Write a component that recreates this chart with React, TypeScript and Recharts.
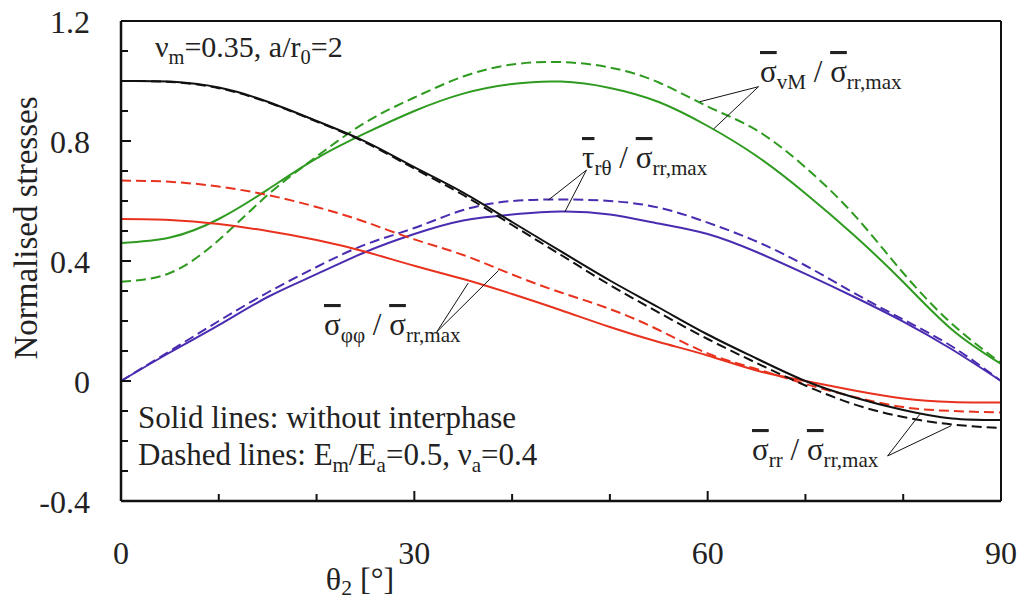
import { LineChart, Line, XAxis, YAxis, ReferenceLine } from 'recharts';

// polar angle θ2 in degrees
const thetas = [0, 5, 10, 15, 20, 25, 30, 35, 40, 45, 50, 55, 60, 65, 70, 75, 80, 85, 90];

// σrr / σrr,max
const rrSolid = [1.0, 0.998, 0.978, 0.931, 0.867, 0.798, 0.713, 0.628, 0.53, 0.432, 0.335, 0.245, 0.155, 0.075, 0.0, -0.055, -0.097, -0.125, -0.13];
const rrDashed = [1.0, 0.997, 0.976, 0.929, 0.865, 0.795, 0.708, 0.62, 0.52, 0.42, 0.32, 0.228, 0.14, 0.06, -0.015, -0.078, -0.12, -0.145, -0.157];
// σφφ / σrr,max
const ffSolid = [0.54, 0.537, 0.523, 0.5, 0.47, 0.431, 0.384, 0.34, 0.29, 0.236, 0.18, 0.13, 0.085, 0.035, 0.0, -0.032, -0.058, -0.07, -0.072];
const ffDashed = [0.668, 0.664, 0.648, 0.62, 0.58, 0.53, 0.472, 0.42, 0.355, 0.295, 0.24, 0.17, 0.092, 0.04, -0.01, -0.053, -0.087, -0.1, -0.105];
// σvM / σrr,max
const vmSolid = [0.46, 0.478, 0.54, 0.638, 0.742, 0.826, 0.9, 0.958, 0.99, 0.998, 0.977, 0.93, 0.85, 0.75, 0.625, 0.485, 0.33, 0.171, 0.057];
const vmDashed = [0.331, 0.36, 0.47, 0.62, 0.748, 0.862, 0.945, 1.015, 1.055, 1.063, 1.045, 0.995, 0.915, 0.836, 0.712, 0.553, 0.36, 0.19, 0.06];
// τrθ / σrr,max
const tauSolid = [0, 0.095, 0.186, 0.28, 0.356, 0.43, 0.49, 0.535, 0.555, 0.565, 0.555, 0.525, 0.49, 0.43, 0.357, 0.28, 0.198, 0.105, 0];
const tauDashed = [0, 0.1, 0.2, 0.295, 0.38, 0.455, 0.51, 0.57, 0.6, 0.605, 0.6, 0.578, 0.528, 0.465, 0.385, 0.293, 0.205, 0.115, 0];

const xTicks = [0, 10, 20, 30, 40, 50, 60, 70, 80, 90];
const xLabelled = [0, 30, 60, 90];
const yTicks = [-0.4, -0.3, -0.2, -0.1, 0, 0.1, 0.2, 0.3, 0.4, 0.5, 0.6, 0.7, 0.8, 0.9, 1.0, 1.1, 1.2];
const yLabelled = [-0.4, 0, 0.4, 0.8, 1.2];

// leader lines of the annotations, in data units [θ, value]
const leaders = [
  [[65.2, 0.981], [59.2, 0.931]],
  [[65.2, 0.981], [60.6, 0.84]],
  [[47.6, 0.703], [43.7, 0.603]],
  [[47.6, 0.703], [45.4, 0.564]],
  [[32.3, 0.164], [38.6, 0.368]],
  [[32.3, 0.164], [35.5, 0.326]],
  [[78.4, -0.25], [81.7, -0.111]],
  [[78.4, -0.25], [84.9, -0.149]],
];

const BLACK = '#111111';
const RED = '#e8321e';
const GREEN = '#2e9a1f';
const BLUE = '#4a2cb0';
const FONT = '"Liberation Serif", "Times New Roman", serif';

const data = thetas.map((t, i) => ({
  t,
  rrS: rrSolid[i], rrD: rrDashed[i],
  ffS: ffSolid[i], ffD: ffDashed[i],
  vmS: vmSolid[i], vmD: vmDashed[i],
  tS: tauSolid[i], tD: tauDashed[i],
}));

const series = [
  { key: 'vmS', color: GREEN, dash: undefined },
  { key: 'vmD', color: GREEN, dash: '10 5' },
  { key: 'tS', color: BLUE, dash: undefined },
  { key: 'tD', color: BLUE, dash: '10 5' },
  { key: 'ffS', color: RED, dash: undefined },
  { key: 'ffD', color: RED, dash: '10 5' },
  { key: 'rrS', color: BLACK, dash: undefined },
  { key: 'rrD', color: BLACK, dash: '10 5' },
];

function XTick(props: any) {
  const { x, y, payload } = props;
  const major = xLabelled.includes(payload.value);
  return (
    <g>
      <line x1={x} x2={x} y1={y} y2={y - (major ? 10 : 7)} stroke={BLACK} strokeWidth={2} />
      {major && (
        <text x={x} y={y + 63} textAnchor="middle" fontSize={32} fontFamily={FONT} fill="#222">
          {payload.value}
        </text>
      )}
    </g>
  );
}

function YTick(props: any) {
  const { x, y, payload } = props;
  const v = payload.value;
  const major = yLabelled.some(m => Math.abs(m - v) < 1e-6);
  return (
    <g>
      <line x1={x} x2={x + (major ? 10 : 7)} y1={y} y2={y} stroke={BLACK} strokeWidth={2} />
      {major && (
        <text x={x - 31} y={y + 12} textAnchor="end" fontSize={32} fontFamily={FONT} fill="#222">
          {v === 0 ? '0' : v.toFixed(1)}
        </text>
      )}
    </g>
  );
}

function Ratio({ x, y, head, sub, fs = 31 }: { x: number; y: number; head: string; sub: string; fs?: number }) {
  const s = fs * 0.68;
  const d = fs * 0.22;
  return (
    <text x={x} y={y} fontSize={fs} fontFamily={FONT} fill="#222" style={{ whiteSpace: 'pre' }}>
      <tspan style={{ textDecoration: 'overline' }}>{head}</tspan>
      <tspan fontSize={s} dy={d}>{sub}</tspan>
      <tspan dy={-d}>{' / '}</tspan>
      <tspan style={{ textDecoration: 'overline' }}>σ</tspan>
      <tspan fontSize={s} dy={d}>rr,max</tspan>
    </text>
  );
}

function Sub({ children, fs, k = 0.22 }: { children: string; fs: number; k?: number }) {
  return <tspan fontSize={fs * 0.68} dy={fs * k}>{children}</tspan>;
}
function Up({ children, fs, k = 0.22 }: { children: string; fs: number; k?: number }) {
  return <tspan dy={-fs * k}>{children}</tspan>;
}

export default function App() {
  return (
    <div style={{ position: 'relative', width: 1022, height: 602, background: '#fff' }}>
      <style>{'body{margin:0}'}</style>
      <LineChart width={1022} height={602} data={data} margin={{ top: 0, right: 0, bottom: 0, left: 0 }}>
        <XAxis
          dataKey="t" type="number" domain={[0, 90]} ticks={xTicks} interval={0}
          height={101} tickSize={0} tickMargin={0} tickLine={false} tick={<XTick />}
          axisLine={{ stroke: BLACK, strokeWidth: 2.5 }}
        />
        <XAxis
          xAxisId="top" dataKey="t" type="number" domain={[0, 90]} orientation="top"
          height={21} tick={false} tickLine={false} axisLine={{ stroke: BLACK, strokeWidth: 2 }}
        />
        <YAxis
          type="number" domain={[-0.4, 1.2]} ticks={yTicks} interval={0} allowDataOverflow
          width={121} tickSize={0} tickMargin={0} tickLine={false} tick={<YTick />}
          axisLine={{ stroke: BLACK, strokeWidth: 2.5 }}
        />
        <YAxis
          yAxisId="right" orientation="right" type="number" domain={[-0.4, 1.2]}
          width={21} tick={false} tickLine={false} axisLine={{ stroke: BLACK, strokeWidth: 2 }}
        />
        {series.map(s => (
          <Line
            key={s.key} type="natural" dataKey={s.key} stroke={s.color} strokeWidth={2}
            strokeDasharray={s.dash} dot={false} activeDot={false} isAnimationActive={false}
          />
        ))}
        {leaders.map((seg, i) => (
          <ReferenceLine
            key={i} stroke={BLACK} strokeWidth={1}
            segment={[{ x: seg[0][0], y: seg[0][1] }, { x: seg[1][0], y: seg[1][1] }]}
          />
        ))}
      </LineChart>
      <svg width={1022} height={602} style={{ position: 'absolute', left: 0, top: 0, pointerEvents: 'none' }}>
        <text x={155} y={57} fontSize={30} fontFamily={FONT} fill="#222">
          ν<Sub fs={30}>m</Sub><Up fs={30}>=0.35, a/r</Up><Sub fs={30}>0</Sub><Up fs={30}>=2</Up>
        </text>
        <text x={138} y={428} fontSize={31} fontFamily={FONT} fill="#222">Solid lines: without interphase</text>
        <text x={138} y={465} fontSize={31} fontFamily={FONT} fill="#222">
          Dashed lines: E<Sub fs={31}>m</Sub><Up fs={31}>/E</Up><Sub fs={31}>a</Sub><Up fs={31}>=0.5, ν</Up>
          <Sub fs={31}>a</Sub><Up fs={31}>=0.4</Up>
        </text>
        <Ratio x={760} y={82} head="σ" sub="vM" />
        <Ratio x={582} y={168} head="τ" sub="rθ" />
        <Ratio x={324} y={335} head="σ" sub="φφ" />
        <Ratio x={752} y={460} head="σ" sub="rr" />
        <text transform="translate(37,228) rotate(-90)" textAnchor="middle" fontSize={33} fontFamily={FONT} fill="#222">
          Normalised stresses
        </text>
        <text x={360} y={590} textAnchor="middle" fontSize={32} fontFamily={FONT} fill="#222">
          θ<Sub fs={32} k={0.16}>2</Sub><Up fs={32} k={0.16}> [°]</Up>
        </text>
      </svg>
    </div>
  );
}
